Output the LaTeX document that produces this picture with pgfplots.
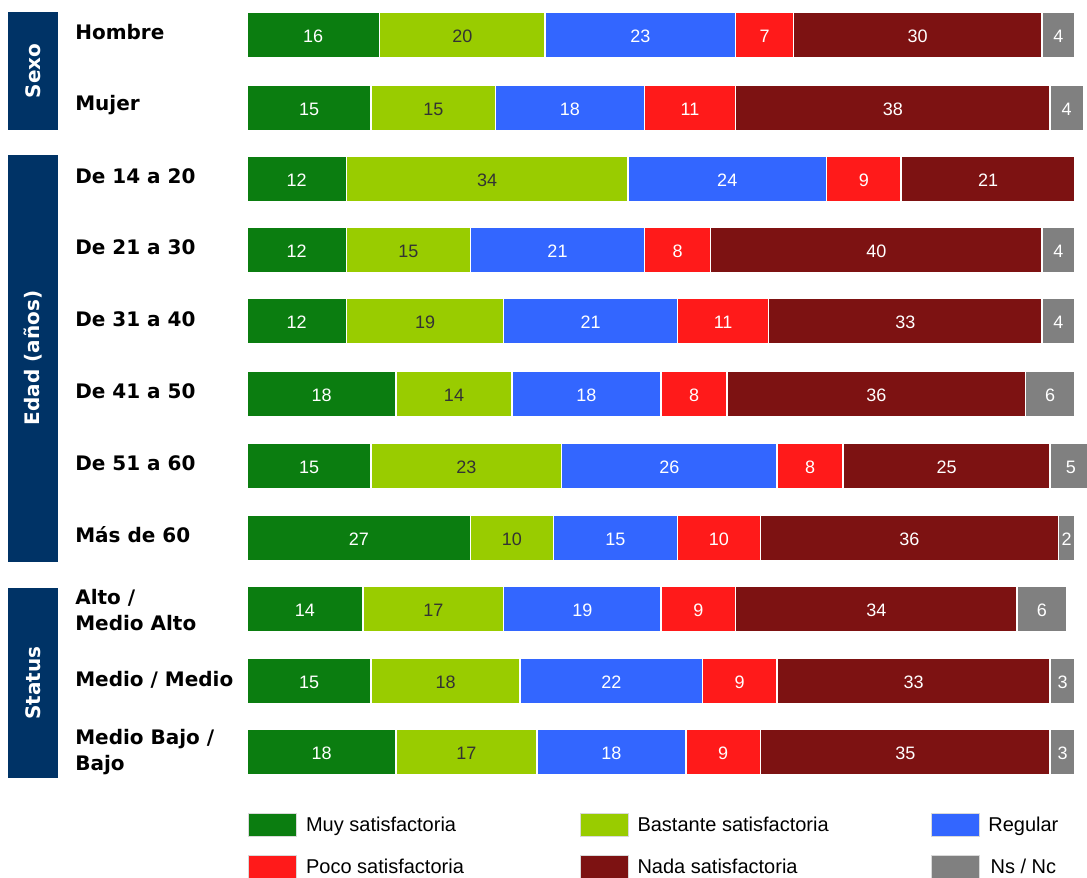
\documentclass[border=0pt]{standalone}
\usepackage{fontspec}
\setmainfont{Liberation Sans}
\newfontfamily\labfont{DejaVu Sans}
\usepackage{pgfplots}
\usepackage{pgfplotstable}
\pgfplotsset{compat=1.18}

\definecolor{cmuy}{HTML}{0B7D10}
\definecolor{cbas}{HTML}{99CC00}
\definecolor{creg}{HTML}{3366FF}
\definecolor{cpoco}{HTML}{FF1A1A}
\definecolor{cnada}{HTML}{7D1212}
\definecolor{cns}{HTML}{808080}
\definecolor{navy}{HTML}{003366}

% y = vertical position of each row (top = 0)
\pgfplotstableread{
y   muy bas reg poco nada ns
35  16  20  23  7   30   4
108 15  15  18  11  38   4
179 12  34  24  9   21   nan
250 12  15  21  8   40   4
321 12  19  21  11  33   4
394 18  14  18  8   36   6
466 15  23  26  8   25   5
538 27  10  15  10  36   2
609 14  17  19  9   34   6
681 15  18  22  9   33   3
752 18  17  18  9   35   3
}\datatable

\tikzset{
  grouplab/.style={rotate=90, text=white, font=\labfont\bfseries\fontsize{15}{17}\selectfont},
  rowlab/.style={anchor=west, align=left, inner sep=0pt,
    font=\labfont\bfseries\fontsize{15}{20}\selectfont},
}
\pgfplotsset{
  % a segment: bar from 0 to the cumulative end, later segments drawn on top
  seg/.style={xbar, bar shift=0pt, bar width=46, fill=#1, draw=white,
    line width=1.2pt, forget plot},
  % value written in the middle of its segment
  segval/.style={draw=none, forget plot, nodes near coords,
    point meta=explicit symbolic,
    every node near coord/.append style={anchor=center, text=#1,
      font=\fontsize{13.5}{14}\selectfont, yshift=-1pt}},
}

\begin{document}
\begin{tikzpicture}
\begin{axis}[
  name=main,
  scale only axis, width=815.25pt, height=657.75pt,
  xmin=-29.831, xmax=101.449, ymin=0, ymax=877, y dir=reverse,
  hide axis, clip=false,
  legend columns=3,
  legend style={at={(axis cs:0.12,813)}, anchor=north west, draw=none, fill=none,
    column sep=0pt, row sep=13.5pt, inner sep=0pt,
    nodes={inner sep=0pt, font=\fontsize{15}{16}\selectfont}},
  legend image code/.code={\fill[#1, draw=white!85!black, line width=0.6pt]
    (0pt,-8.6pt) rectangle (36pt,8.6pt);},
]
% bars
\addplot[seg=cns]   table[y=y, x expr=\thisrow{muy}+\thisrow{bas}+\thisrow{reg}+\thisrow{poco}+\thisrow{nada}+\thisrow{ns}]{\datatable};
\addplot[seg=cnada] table[y=y, x expr=\thisrow{muy}+\thisrow{bas}+\thisrow{reg}+\thisrow{poco}+\thisrow{nada}]{\datatable};
\addplot[seg=cpoco] table[y=y, x expr=\thisrow{muy}+\thisrow{bas}+\thisrow{reg}+\thisrow{poco}]{\datatable};
\addplot[seg=creg]  table[y=y, x expr=\thisrow{muy}+\thisrow{bas}+\thisrow{reg}]{\datatable};
\addplot[seg=cbas]  table[y=y, x expr=\thisrow{muy}+\thisrow{bas}]{\datatable};
\addplot[seg=cmuy]  table[y=y, x=muy]{\datatable};

% values
\addplot[segval=white]    table[y=y, meta=muy,  x expr=\thisrow{muy}/2]{\datatable};
\addplot[segval=black!80] table[y=y, meta=bas,  x expr=\thisrow{muy}+\thisrow{bas}/2]{\datatable};
\addplot[segval=white]    table[y=y, meta=reg,  x expr=\thisrow{muy}+\thisrow{bas}+\thisrow{reg}/2]{\datatable};
\addplot[segval=white]    table[y=y, meta=poco, x expr=\thisrow{muy}+\thisrow{bas}+\thisrow{reg}+\thisrow{poco}/2]{\datatable};
\addplot[segval=white]    table[y=y, meta=nada, x expr=\thisrow{muy}+\thisrow{bas}+\thisrow{reg}+\thisrow{poco}+\thisrow{nada}/2]{\datatable};
\addplot[segval=white]    table[y=y, meta=ns,   x expr=\thisrow{muy}+\thisrow{bas}+\thisrow{reg}+\thisrow{poco}+\thisrow{nada}+\thisrow{ns}/2]{\datatable};

% legend
\addlegendimage{fill=cmuy}
\addlegendentry{\makebox[212pt][l]{\hspace{6.75pt}Muy satisfactoria}}
\addlegendimage{fill=cbas}
\addlegendentry{\makebox[226.5pt][l]{\hspace{6.75pt}Bastante satisfactoria}}
\addlegendimage{fill=creg}
\addlegendentry{\hspace{6.75pt}Regular}
\addlegendimage{fill=cpoco}
\addlegendentry{\makebox[212pt][l]{\hspace{6.75pt}Poco satisfactoria}}
\addlegendimage{fill=cnada}
\addlegendentry{\makebox[226.5pt][l]{\hspace{6.75pt}Nada satisfactoria}}
\addlegendimage{fill=cns}
\addlegendentry{\hspace{6.75pt}Ns / Nc}

% group boxes
\fill[navy] (axis cs:-28.86,12) rectangle (axis cs:-22.83,130);
\fill[navy] (axis cs:-28.86,155) rectangle (axis cs:-22.83,562);
\fill[navy] (axis cs:-28.86,588) rectangle (axis cs:-22.83,778);
\node[grouplab] at (axis cs:-25.85,71) {Sexo};
\node[grouplab] at (axis cs:-25.85,358) {Edad (años)};
\node[grouplab] at (axis cs:-25.85,683) {Status};

% row labels
\node[rowlab] at (axis cs:-20.77,32) {Hombre};
\node[rowlab] at (axis cs:-20.77,105) {Mujer};
\node[rowlab] at (axis cs:-20.77,176) {De 14 a 20};
\node[rowlab] at (axis cs:-20.77,247) {De 21 a 30};
\node[rowlab] at (axis cs:-20.77,319) {De 31 a 40};
\node[rowlab] at (axis cs:-20.77,391) {De 41 a 50};
\node[rowlab] at (axis cs:-20.77,463) {De 51 a 60};
\node[rowlab] at (axis cs:-20.77,535) {Más de 60};
\node[rowlab] at (axis cs:-20.77,610) {Alto /\\Medio Alto};
\node[rowlab] at (axis cs:-20.77,680) {Medio / Medio};
\node[rowlab] at (axis cs:-20.77,752) {Medio Bajo /\\Bajo};
\end{axis}
\pgfresetboundingbox
\useasboundingbox (main.south west) rectangle (main.north east);
\end{tikzpicture}
\end{document}
